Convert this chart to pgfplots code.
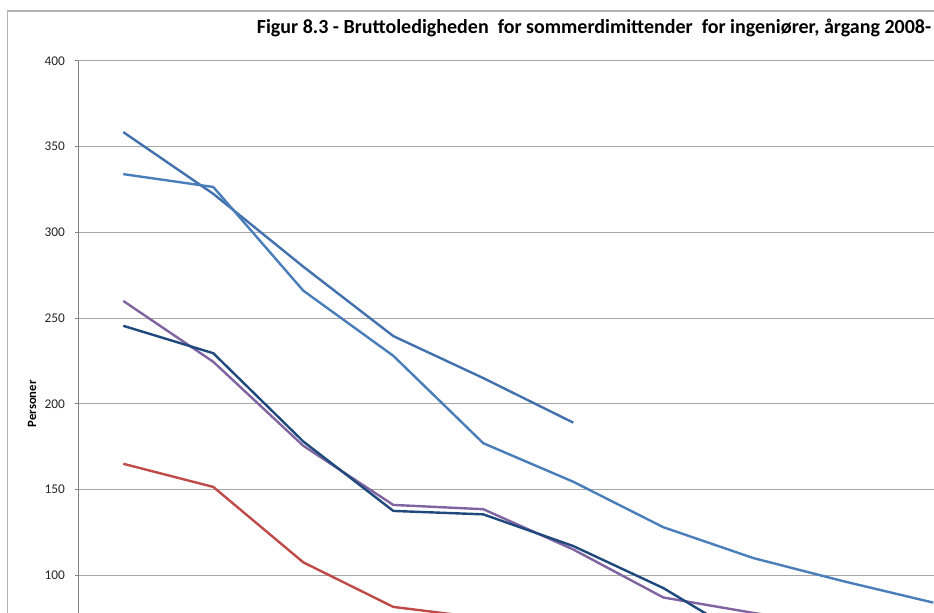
\documentclass[border=0pt]{standalone}
\usepackage{fontspec}
\setmainfont{Carlito}
\usepackage{pgfplots}
\pgfplotsset{compat=1.18}

\definecolor{serA}{HTML}{4271AE}
\definecolor{serB}{HTML}{4A7EBB}
\definecolor{serC}{HTML}{8064A2}
\definecolor{serD}{HTML}{1F497D}
\definecolor{serE}{HTML}{BE4B48}
\definecolor{gridgray}{HTML}{A6A6A6}
\definecolor{framegray}{HTML}{B4B4B4}

\begin{document}
\begin{tikzpicture}
  % visible window of the chart (cropped like the reference)
  \useasboundingbox (0,0) rectangle (700.5pt,-459.75pt);
  \clip (0,0) rectangle (700.5pt,-459.75pt);
  \draw[framegray, line width=1pt] (5.775pt,-480pt) -- (5.775pt,-8.25pt) -- (720pt,-8.25pt);
  \node[anchor=base east, font=\bfseries\fontsize{15}{17}\selectfont, inner sep=0pt]
    at (698.6pt,-25pt) {Figur 8.3 - Bruttoledigheden\ \ for sommerdimittender\ \ for ingeniører, årgang 2008-};

  \begin{axis}[
      at={(58.725pt,-45.75pt)}, anchor=north west,
      scale only axis,
      width=675pt, height=514.2pt,
      xmin=-0.5, xmax=9.5,
      ymin=0, ymax=400,
      axis x line=none,
      axis y line*=left,
      y axis line style={-, draw=gray, line width=0.75pt},
      xtick=\empty,
      ytick={100,150,...,400},
      ymajorgrids,
      major grid style={gridgray, line width=0.75pt},
      tick align=outside,
      major tick length=2.6pt,
      y tick style={gray, line width=0.75pt},
      /pgf/number format/assume math mode=true,
      yticklabel style={font=\fontsize{10}{11}\selectfont, text=black!85, xshift=-4pt},
      ylabel={Personer},
      ylabel style={font=\bfseries\fontsize{9.5}{10}\selectfont, at={(axis description cs:-0.0514,0.5)}, anchor=center},
      every axis plot/.append style={line width=1.8pt, line join=round, mark=none},
    ]
    \addplot[serA] coordinates {(0,358.5)(1,322.5)(2,280)(3,239.5)(4,215)(5,189)};
    \addplot[serB] coordinates {(0,334)(1,326.5)(2,266)(3,228)(4,177)(5,154.5)(6,128)(7,110)(8,96.5)(9,84)};
    \addplot[serC] coordinates {(0,260)(1,224.5)(2,175.5)(3,141)(4,138.5)(5,115)(6,87)(7,78)(8,70)};
    \addplot[serD] coordinates {(0,245.5)(1,229.5)(2,178)(3,137.5)(4,135.5)(5,117)(6,92.5)(7,61)};
    \addplot[serE] coordinates {(0,165)(1,151.5)(2,107.5)(3,81.5)(4,75)};
  \end{axis}
\end{tikzpicture}
\end{document}
